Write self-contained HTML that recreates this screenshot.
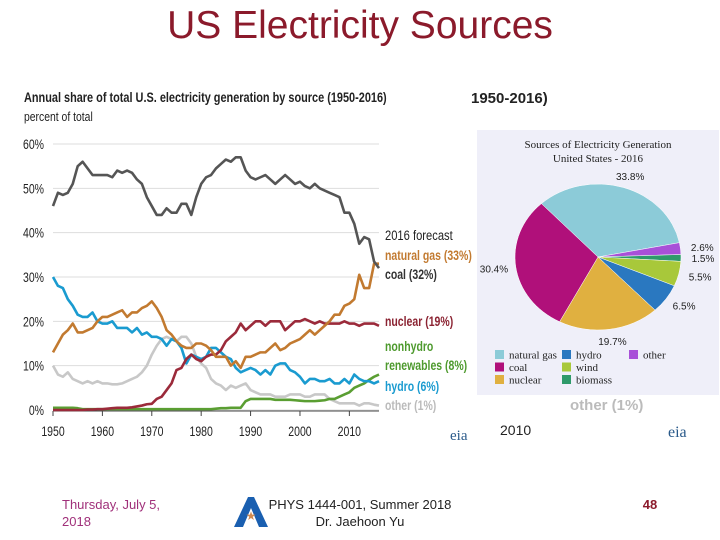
<!DOCTYPE html>
<html><head><meta charset="utf-8">
<style>
html,body{margin:0;padding:0;background:#fff;}
body{width:720px;height:540px;overflow:hidden;position:relative;font-family:"Liberation Sans",sans-serif;}
svg{position:absolute;left:0;top:0;}
</style></head>
<body>
<svg id="s" width="720" height="540" viewBox="0 0 720 540">
<text x="360" y="38" text-anchor="middle" font-size="39" fill="#8b1a2b">US Electricity Sources</text>
<g id="bg">
<text x="471" y="103" font-size="15" font-weight="bold" fill="#222">1950-2016)</text>
<text x="570" y="410" font-size="15" font-weight="bold" fill="#bbb">other (1%)</text>
<text x="500" y="435" font-size="14" fill="#222">2010</text>
<text x="668" y="437" font-size="16" fill="#2a5a8a" font-family="Liberation Serif,serif">eia</text>
</g>
<g id="lc">
<text x="24" y="102" font-size="14" font-weight="bold" fill="#222" transform="translate(24,0) scale(0.78,1) translate(-24,0)">Annual share of total U.S. electricity generation by source (1950-2016)</text>
<text x="24" y="121" font-size="13" fill="#222" transform="translate(24,0) scale(0.8,1) translate(-24,0)">percent of total</text>
<g id="grid"></g><g id="lines"></g>
<text x="385" y="240" font-size="14" fill="#222" transform="translate(385,0) scale(0.8,1) translate(-385,0)">2016 forecast</text>
<text x="385" y="260" font-size="14" font-weight="bold" fill="#c27a30" transform="translate(385,0) scale(0.75,1) translate(-385,0)">natural gas (33%)</text>
<text x="385" y="279" font-size="14" font-weight="bold" fill="#333" transform="translate(385,0) scale(0.75,1) translate(-385,0)">coal (32%)</text>
<text x="385" y="326" font-size="14" font-weight="bold" fill="#8b2332" transform="translate(385,0) scale(0.75,1) translate(-385,0)">nuclear (19%)</text>
<text x="385" y="351" font-size="14" font-weight="bold" fill="#4e9a2e" transform="translate(385,0) scale(0.75,1) translate(-385,0)">nonhydro</text>
<text x="385" y="370" font-size="14" font-weight="bold" fill="#4e9a2e" transform="translate(385,0) scale(0.75,1) translate(-385,0)">renewables (8%)</text>
<text x="385" y="391" font-size="14" font-weight="bold" fill="#1a9bd0" transform="translate(385,0) scale(0.75,1) translate(-385,0)">hydro (6%)</text>
<text x="385" y="410" font-size="14" font-weight="bold" fill="#bbb" transform="translate(385,0) scale(0.75,1) translate(-385,0)">other (1%)</text>
<text x="450" y="440" font-size="15" fill="#2a5a8a" font-family="Liberation Serif,serif">eia</text>
</g>
<g id="pie">
<rect x="477" y="130" width="242" height="265" fill="#efeff9"/>
<text x="598" y="148" text-anchor="middle" font-size="11" font-family="Liberation Serif,serif" fill="#222">Sources of Electricity Generation</text>
<text x="598" y="162" text-anchor="middle" font-size="11" font-family="Liberation Serif,serif" fill="#222">United States - 2016</text>
<g id="slices"></g><g id="plabels"></g><g id="plegend"></g>
</g>
<g>
<text x="62" y="509" font-size="13" fill="#a0307a">Thursday, July 5,</text>
<text x="62" y="526" font-size="13" fill="#a0307a">2018</text>
<polygon points="234,527 248,497 254,497 268,527 259,527 251,508 243,527" fill="#1a5fb0"/>
<text x="251" y="520" text-anchor="middle" font-size="12" fill="#d08a50">★</text>
<text x="360" y="509" text-anchor="middle" font-size="13" fill="#222">PHYS 1444-001, Summer 2018</text>
<text x="360" y="526" text-anchor="middle" font-size="13" fill="#222">Dr. Jaehoon Yu</text>
<text x="650" y="509" text-anchor="middle" font-size="13" font-weight="bold" fill="#8b1a2b">48</text>
</g>
</svg>
<script>
const years=[];for(let y=1950;y<=2016;y++)years.push(y);
const coal=[46,49,48.5,49,51,55,56,54.5,53,53,53,53,52.5,54,53.5,54,53.5,52,51,48,46,44,44,45.5,44.5,44.5,46.5,46.5,44,48,51,52.5,53,54.5,55.5,56.5,56,57,57,54,52.5,52,52.5,53,52,51,52,53,52,51,51.5,50.5,50,51,50,49.5,49,48.5,48,44.5,44.5,42,37.5,39,38.5,33.5,32];
const gas=[13,15,17,18,19.5,17.5,17.5,18,18.5,20,21,21,21.5,22,22.5,21,22,22,23,23.5,24.5,23,21,18,17,15.5,14.5,14,14,15,15,14.5,13.5,12,12,12,10,11,9.5,12,12,12.5,13,13,14,15,13.5,14,15,15.5,16,17,18,17,18,19,20,21.5,21.5,23.5,24,25,30.5,27.5,27.5,33,33];
const nuclear=[0,0,0,0,0,0,0,0.1,0.1,0.2,0.2,0.3,0.4,0.5,0.5,0.5,0.6,0.8,1,1.3,1.4,2.5,3,4.5,6,9,9.5,11.5,12.5,11.5,11,12,12.5,12.5,13.5,15.5,16.5,17.5,19.5,18,19,20,20,19,20,20,20,18,19,20,20,20.5,20,19.5,20,19.5,19.5,19.5,19.5,20,19.5,19.5,19,19.5,19.5,19.5,19];
const hydro=[30,28,27.5,25,23.5,21.5,21,21,22,20,19.5,19.5,20,18.5,18.5,18.5,17.5,18.5,17,17.5,16.5,16.5,16,14.5,16,15.5,14,10.5,12.5,12,11.5,12,14,14,13,12,11.5,9.5,8.5,9,9.5,9,8,9,8,10,10.5,10.5,9,8.5,7.5,6,7,7,6.5,6.5,7,6,6,7,6,8,7,6.5,6.5,6,6.5];
const other=[10,8,7.5,8.5,7,6.5,6,6.5,6,6.5,6,6,5.8,5.8,6,6.5,7,7.5,8.5,10,12.5,14.5,16,16.5,16,15.5,16.5,16.5,15,12,10.5,9.5,7,6,5.5,4.5,5.5,5,5.5,6,4.5,4,3.5,3.5,3.5,3,3,3,3.5,3.5,3.5,3,3,3.5,3.5,3.5,2.5,2,1.5,1.5,1.5,1.5,1,1.5,1.5,1.2,1];
const renew=[0.5,0.5,0.5,0.5,0.5,0.4,0.2,0.2,0.2,0.2,0.2,0.2,0.2,0.2,0.2,0.2,0.2,0.2,0.2,0.2,0.2,0.2,0.2,0.2,0.2,0.2,0.2,0.2,0.2,0.2,0.2,0.2,0.2,0.3,0.4,0.4,0.5,0.5,0.5,2,2.5,2.5,2.5,2.5,2.5,2.3,2.3,2.3,2.3,2.2,2.1,2,2,2,2.1,2.2,2.5,2.5,3,3.5,4,5,5.5,6,6.8,7.5,8];
const yTicks=[0,10,20,30,40,50,60];
const xTicks=[1950,1960,1970,1980,1990,2000,2010];
const pieLabels=["natural gas","other","biomass","wind","hydro","nuclear","coal"];
const pieValues=[33.8,2.6,1.5,5.5,6.5,19.7,30.4];
const NS="http://www.w3.org/2000/svg";
function mk(t,a,p){const e=document.createElementNS(NS,t);for(const k in a)e.setAttribute(k,a[k]);p.appendChild(e);return e;}
const X=y=>53+(y-1950)*(326/66), Y=v=>410-v*(266/60);
const grid=document.getElementById('grid');
yTicks.forEach(t=>{
 const l=mk('line',{x1:53,x2:379,y1:Y(t),y2:Y(t),stroke:'#ddd','stroke-width':1},grid);
 
 
 const tx=mk('text',{x:44,y:Y(t)+5,'font-size':14,fill:'#222','text-anchor':'end',transform:`translate(44,0) scale(0.75,1) translate(-44,0)`},grid);
 tx.textContent=t+'%';
 
 
});
mk('line',{x1:53,x2:379,y1:411,y2:411,stroke:'#444'},grid);
xTicks.forEach(t=>{
 mk('line',{x1:X(t),x2:X(t),y1:411,y2:416,stroke:'#444'},grid);
 const tx=mk('text',{x:X(t),y:436,'font-size':14,fill:'#222','text-anchor':'middle',transform:`translate(${X(t)},0) scale(0.75,1) translate(${-X(t)},0)`},grid);
 tx.textContent=t;
 
 
});
const series=[['other',other,'#c8c8c8'],['renewables',renew,'#5a9e32'],['hydro',hydro,'#1a9bd0'],['nuclear',nuclear,'#9b2a3a'],['natural-gas',gas,'#c27a30'],['coal',coal,'#555']];
const lg=document.getElementById('lines');
series.forEach(([n,d,c])=>{
 const p=mk('polyline',{points:d.map((v,i)=>X(years[i])+','+Y(v)).join(' '),fill:'none',stroke:c,'stroke-width':2.6,'stroke-linejoin':'round'},lg);
 
 
});
// pie
const colors=['#8ccbd8','#a850d8','#2e9a6a','#a8c83a','#2a78c0','#e0b040','#b0107a'];
const cx=598,cy=257,rx=83,ry=73;
const tot=pieValues.reduce((a,b)=>a+b,0);
let ang=-133*Math.PI/180;
const sl=document.getElementById('slices'),pl=document.getElementById('plabels');
pieValues.forEach((v,i)=>{
 const a2=ang+v/tot*2*Math.PI;
 const x1=cx+rx*Math.cos(ang),y1=cy+ry*Math.sin(ang),x2=cx+rx*Math.cos(a2),y2=cy+ry*Math.sin(a2);
 const large=(a2-ang)>Math.PI?1:0;
 const p=mk('path',{d:`M${cx},${cy} L${x1},${y1} A${rx},${ry} 0 ${large} 1 ${x2},${y2} Z`,fill:colors[i],stroke:'#fff','stroke-width':0.5},sl);
 
 
 const m=(ang+a2)/2;
 const t=mk('text',{x:cx+(rx+22)*Math.cos(m),y:cy+(ry+12)*Math.sin(m)+4,'font-size':10,fill:'#222','text-anchor':'middle'},pl);
 t.textContent=v.toFixed(1)+'%';
 
 
 ang=a2;
});
const leg=document.getElementById('plegend');
const order=[0,6,5,4,3,2,1];
order.forEach((idx,k)=>{
 const col=Math.floor(k/3),row=k%3;
 const x=495+col*67,y=350+row*12.5;
 mk('rect',{x:x,y:y,width:9,height:9,fill:colors[idx]},leg);
 const t=mk('text',{x:x+14,y:y+8.5,'font-size':11,'font-family':'Liberation Serif,serif',fill:'#222'},leg);
 t.textContent=pieLabels[idx];
 
 
});
</script>
</body></html>
